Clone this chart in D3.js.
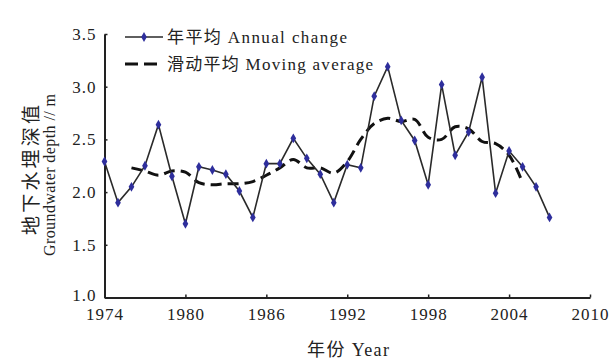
<!DOCTYPE html>
<html>
<head>
<meta charset="utf-8">
<script src="https://cdn.jsdelivr.net/npm/d3@7/dist/d3.min.js"></script>
<style>
  html, body { margin: 0; padding: 0; background: #fff; }
  svg { display: block; }
  text { font-family: "Liberation Serif", "Noto Sans CJK SC", serif; fill: #222; }
</style>
</head>
<body>
<svg id="chart" width="611" height="362"></svg>
<script>
// Annual groundwater depth (m), 1974-2007
const years = d3.range(1974, 2008);
const annual = [2.29, 1.90, 2.05, 2.25, 2.64, 2.15, 1.70, 2.24, 2.21, 2.17,
                2.01, 1.76, 2.27, 2.27, 2.51, 2.32, 2.17, 1.90, 2.26, 2.23,
                2.91, 3.19, 2.68, 2.49, 2.07, 3.02, 2.35, 2.57, 3.09, 1.99,
                2.39, 2.24, 2.05, 1.76];

// 5-year moving average, 1976-2005
const maYears = d3.range(1976, 2006);
const movingAvg = [2.23, 2.20, 2.16, 2.20, 2.19, 2.09, 2.07, 2.08, 2.08, 2.10,
                   2.16, 2.23, 2.31, 2.23, 2.23, 2.18, 2.29, 2.50, 2.65, 2.70,
                   2.67, 2.69, 2.52, 2.50, 2.62, 2.60, 2.48, 2.46, 2.35, 2.09];

const xTicks = [1974, 1980, 1986, 1992, 1998, 2004, 2010];
const yTicks = [1.0, 1.5, 2.0, 2.5, 3.0, 3.5];

const legendLabels = ["年平均 Annual change", "滑动平均 Moving average"];
const xTitle = "年份 Year";
const yTitleCn = "地下水埋深值";
const yTitleEn = "Groundwater depth // m";

const svg = d3.select("#chart");
const x = d3.scaleLinear().domain([1974, 2010]).range([104.5, 590]);
const y = d3.scaleLinear().domain([1, 3.5]).range([297.5, 34]);

const axisColor = "#222";

// x axis (ticks point inward)
const gx = svg.append("g").attr("transform", `translate(0,${y(1)})`)
  .call(d3.axisBottom(x).tickValues(xTicks).tickFormat(d3.format("d"))
        .tickSizeInner(-3).tickSizeOuter(0).tickPadding(9));
// y axis
const gy = svg.append("g").attr("transform", `translate(${x(1974)},0)`)
  .call(d3.axisLeft(y).tickValues(yTicks).tickFormat(d3.format(".1f"))
        .tickSizeInner(-3).tickSizeOuter(0).tickPadding(8));

[gx, gy].forEach(g => {
  g.select(".domain").attr("stroke", axisColor).attr("stroke-width", 2);
  g.selectAll(".tick line").attr("stroke", axisColor).attr("stroke-width", 1.5);
  g.selectAll(".tick text").attr("font-size", 17)
    .attr("font-family", "Liberation Serif, serif").attr("fill", axisColor)
    .style("letter-spacing", "1px");
});
gx.selectAll(".tick text").attr("dy", "0.8em");
// lowest y label sits just above the corner so it clears the first year label
gy.selectAll(".tick text").filter(d => d === 1).attr("dy", "0.2em");

// moving average (dashed, smoothed)
const maLine = d3.line()
  .x((d, i) => x(maYears[i])).y(d => y(d))
  .curve(d3.curveCatmullRom.alpha(0.5));
svg.append("path").datum(movingAvg)
  .attr("d", maLine).attr("fill", "none")
  .attr("stroke", "#111").attr("stroke-width", 3)
  .attr("stroke-dasharray", "11,6");

// annual values
const annLine = d3.line().x((d, i) => x(years[i])).y(d => y(d));
svg.append("path").datum(annual)
  .attr("d", annLine).attr("fill", "none")
  .attr("stroke", "#2a2a2a").attr("stroke-width", 1.6);

const diamond = d3.symbol().type(d3.symbolDiamond).size(28);
svg.append("g").selectAll("path").data(annual).join("path")
  .attr("transform", (d, i) => `translate(${x(years[i])},${y(d)})`)
  .attr("d", diamond).attr("fill", "#2e2e9c");

// legend
const legend = svg.append("g");
const lx0 = 125, lx1 = 163, rows = [37, 64], textWidths = [180, 206];
legend.append("line").attr("x1", lx0).attr("x2", lx1).attr("y1", rows[0]).attr("y2", rows[0])
  .attr("stroke", "#2a2a2a").attr("stroke-width", 1.6);
legend.append("path").attr("d", diamond)
  .attr("transform", `translate(${(lx0 + lx1) / 2},${rows[0]})`).attr("fill", "#2e2e9c");
legend.append("line").attr("x1", lx0).attr("x2", lx1).attr("y1", rows[1]).attr("y2", rows[1])
  .attr("stroke", "#111").attr("stroke-width", 3).attr("stroke-dasharray", "13,6");
legend.selectAll("text").data(legendLabels).join("text")
  .attr("x", 167).attr("y", (d, i) => rows[i]).attr("dy", "0.35em")
  .attr("font-size", 17)
  .attr("textLength", (d, i) => textWidths[i]).attr("lengthAdjust", "spacing")
  .text(d => d);

// axis titles
svg.append("text").attr("x", 348).attr("y", 350).attr("dy", "0.35em")
  .attr("text-anchor", "middle").attr("font-size", 18)
  .attr("textLength", 82).attr("lengthAdjust", "spacing").text(xTitle);
svg.append("text").attr("transform", "translate(31,170) rotate(-90)")
  .attr("dy", "0.35em").attr("text-anchor", "middle").attr("font-size", 19)
  .attr("textLength", 130).attr("lengthAdjust", "spacing").text(yTitleCn);
svg.append("text").attr("transform", "translate(49,175) rotate(-90)")
  .attr("dy", "0.35em").attr("text-anchor", "middle").attr("font-size", 16)
  .attr("textLength", 162).attr("lengthAdjust", "spacing").text(yTitleEn);
</script>
</body>
</html>
